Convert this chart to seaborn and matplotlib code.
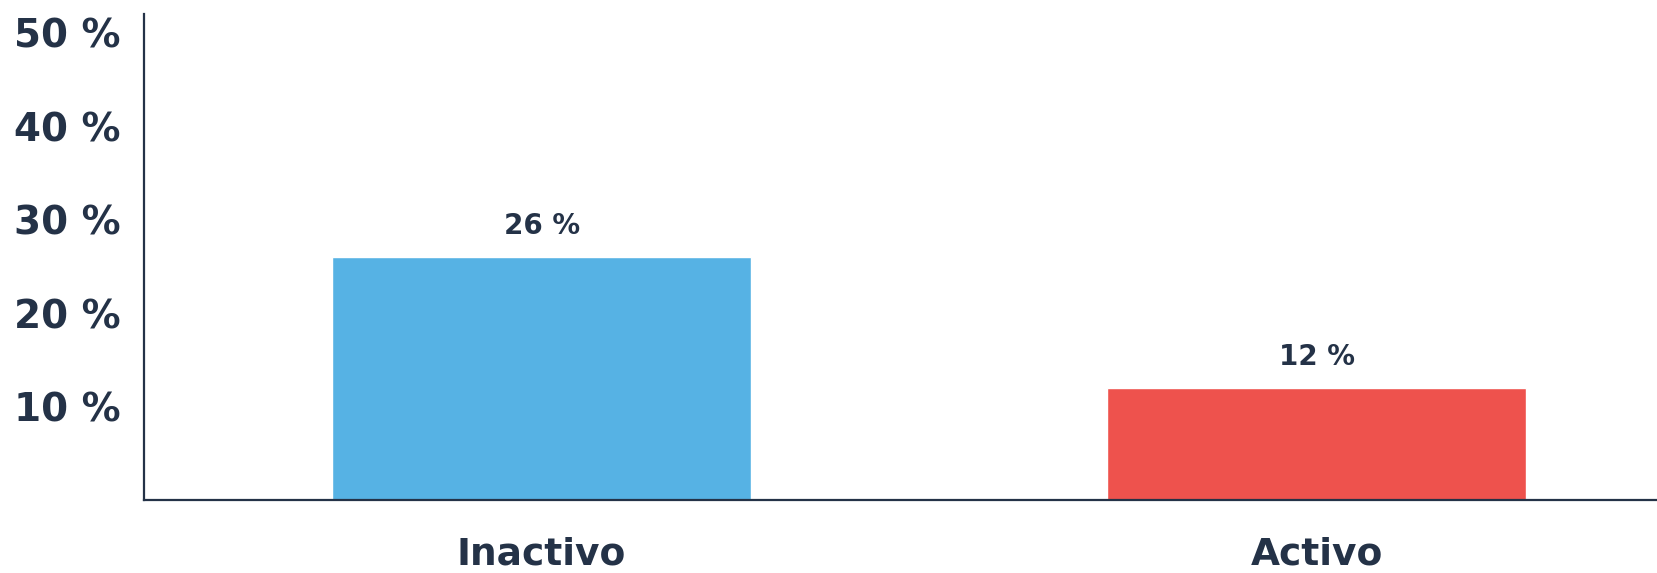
import matplotlib
matplotlib.use("Agg")
import matplotlib.pyplot as plt
import seaborn as sns
import pandas as pd

# Share of respondents by activity status
categories = ["Inactivo", "Activo"]
values = [26, 12]
y_ticks = [10, 20, 30, 40, 50]
y_tick_labels = ["10 %", "20 %", "30 %", "40 %", "50 %"]
bar_colors = ["#56B2E4", "#EE524D"]

navy = "#243247"

sns.set_theme(style="white")
plt.rcParams["font.family"] = ["DejaVu Sans"]

df = pd.DataFrame({"estado": categories, "pct": values})

fig = plt.figure(figsize=(16.57, 5.73), dpi=100)
ax = fig.add_axes([144 / 1657, 73 / 573, (1657 - 144) / 1657, 486 / 573])

sns.barplot(data=df, x="estado", y="pct", hue="estado", palette=bar_colors,
            order=categories, hue_order=categories, width=0.54,
            saturation=1, legend=False, ax=ax)

ax.set_xlim(-0.513, 1.439)
ax.set_ylim(0, 52)
ax.set_yticks(y_ticks)
ax.set_yticklabels(y_tick_labels)
ax.set_xlabel("")
ax.set_ylabel("")

for lbl in ax.get_yticklabels():
    lbl.set_fontweight("bold")
    lbl.set_fontsize(28)
    lbl.set_color(navy)
for lbl in ax.get_xticklabels():
    lbl.set_fontweight("bold")
    lbl.set_fontsize(27)
    lbl.set_color(navy)

ax.tick_params(axis="y", length=0, pad=17)
ax.tick_params(axis="x", length=0, pad=26)

for side in ["top", "right"]:
    ax.spines[side].set_visible(False)
for side in ["left", "bottom"]:
    ax.spines[side].set_color(navy)
    ax.spines[side].set_linewidth(1.6)
    ax.spines[side].set_zorder(5)

for i, v in enumerate(values):
    ax.annotate(f"{v} %", xy=(i, v), xytext=(0, 12), textcoords="offset points",
                ha="center", va="bottom", fontsize=20, fontweight="bold",
                color=navy)

fig.savefig("out.png", dpi=100)
